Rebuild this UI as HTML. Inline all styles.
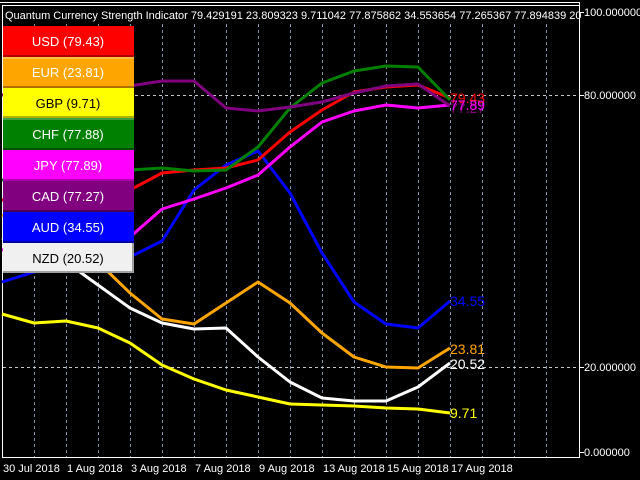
<!DOCTYPE html>
<html><head><meta charset="utf-8"><style>
html,body{margin:0;padding:0;background:#000;}
svg{display:block;font-family:"Liberation Sans",Arial,sans-serif;}
</style></head><body>
<svg width="640" height="480" viewBox="0 0 640 480" xmlns="http://www.w3.org/2000/svg">
<rect width="640" height="480" fill="#000"/>
<!-- frame -->
<line x1="0" y1="2.5" x2="580" y2="2.5" stroke="#fff" stroke-width="1"/>
<line x1="2" y1="5.5" x2="580" y2="5.5" stroke="#fff" stroke-width="1"/>
<line x1="579.5" y1="2" x2="579.5" y2="458" stroke="#fff"/>
<line x1="2" y1="457.5" x2="580" y2="457.5" stroke="#fff"/>
<line x1="2.5" y1="5" x2="2.5" y2="458" stroke="#fff"/>
<!-- vertical grid -->
<g stroke="#8094a8" stroke-width="1" stroke-dasharray="3,3">
<line x1="34.5" y1="6" x2="34.5" y2="457"/><line x1="66.5" y1="6" x2="66.5" y2="457"/>
<line x1="98.5" y1="6" x2="98.5" y2="457"/><line x1="130.5" y1="6" x2="130.5" y2="457"/>
<line x1="162.5" y1="6" x2="162.5" y2="457"/><line x1="194.5" y1="6" x2="194.5" y2="457"/>
<line x1="226.5" y1="6" x2="226.5" y2="457"/><line x1="258.5" y1="6" x2="258.5" y2="457"/>
<line x1="290.5" y1="6" x2="290.5" y2="457"/><line x1="322.5" y1="6" x2="322.5" y2="457"/>
<line x1="354.5" y1="6" x2="354.5" y2="457"/><line x1="386.5" y1="6" x2="386.5" y2="457"/>
<line x1="418.5" y1="6" x2="418.5" y2="457"/><line x1="450.5" y1="6" x2="450.5" y2="457"/>
<line x1="482.5" y1="6" x2="482.5" y2="457"/><line x1="514.5" y1="6" x2="514.5" y2="457"/>
<line x1="546.5" y1="6" x2="546.5" y2="457"/>
</g>
<g stroke="#c8c8c8" stroke-dasharray="3,3">
<line x1="3" y1="95.5" x2="579" y2="95.5"/>
<line x1="3" y1="367.5" x2="579" y2="367.5"/>
</g>
<!-- right axis -->
<g stroke="#fff"><line x1="580" y1="12.5" x2="584" y2="12.5"/><line x1="580" y1="95.5" x2="584" y2="95.5"/><line x1="580" y1="367.5" x2="584" y2="367.5"/><line x1="580" y1="452.5" x2="584" y2="452.5"/></g>
<g fill="#fff" font-size="11">
<text x="584" y="16">100.000000</text>
<text x="584" y="99">80.000000</text>
<text x="584" y="371">20.000000</text>
<text x="584" y="456">0.000000</text>
</g>
<!-- bottom labels -->
<g fill="#fff" font-size="11">
<text x="3" y="472">30 Jul 2018</text>
<text x="67" y="472">1 Aug 2018</text>
<text x="131" y="472">3 Aug 2018</text>
<text x="195" y="472">7 Aug 2018</text>
<text x="259" y="472">9 Aug 2018</text>
<text x="323" y="472">13 Aug 2018</text>
<text x="387" y="472">15 Aug 2018</text>
<text x="451" y="472">17 Aug 2018</text>
</g>
<g stroke-width="3" fill="none" stroke-linejoin="round">
<polyline stroke="#ffff00" points="2,314 34,323 66,321 98,328 130,343 162,365 194,379 226,390 258,397 290,404 322,405 354,406 386,408 418,409 450,413"/>
<polyline stroke="#ffffff" points="2,238 34,248 66,262 98,285 130,308 162,323 194,329 226,328 258,357 290,382 322,398 354,401 386,401 418,387 450,363"/>
<polyline stroke="#ffa500" points="2,215 34,230 66,245 98,262 130,293 162,319 194,324 226,303 258,282 290,303 322,333 354,357 386,367 418,368 450,348"/>
<polyline stroke="#0000ff" points="2,282 34,272 66,266 98,262 130,257 162,241 194,190 226,165 258,151 290,193 322,253 354,302 386,324 418,328 450,301"/>
<polyline stroke="#ff00ff" points="2,250 34,245 66,248 98,245 130,237 162,209 194,199 226,188 258,175 290,147 322,122 354,111 386,105 418,108 450,105"/>
<polyline stroke="#ff0000" points="2,200 34,198 66,196 98,194 130,190 162,173 194,170 226,168 258,160 290,132 322,110 354,92 386,87 418,85 450,98"/>
<polyline stroke="#008000" points="2,180 34,176 66,172 98,171 130,170 162,168 194,171 226,170 258,147 290,108 322,83 354,71 386,66 418,67 450,100"/>
<polyline stroke="#800080" points="2,95 34,92 66,90 98,88 130,86 162,81 194,81 226,108 258,111 290,107 322,102 354,93 386,86 418,84 450,106"/>
</g>
<g font-size="14">
<text x="450" y="103" fill="#ff0000">79.43</text>
<text x="450" y="113" fill="#800080">77.27</text>
<text x="450" y="110" fill="#ff00ff">77.89</text>
<text x="450" y="306" fill="#0000ff">34.55</text>
<text x="450" y="354" fill="#ffa500">23.81</text>
<text x="450" y="369" fill="#ffffff">20.52</text>
<text x="450" y="418" fill="#ffff00">9.71</text>
</g>
<!-- title -->
<rect x="3" y="6" width="576" height="18" fill="#000"/>
<text x="5" y="19" fill="#fff" font-size="11">Quantum Currency Strength Indicator 79.429191 23.809323 9.711042 77.875862 34.553654 77.265367 77.894839 20</text>
<!-- legend -->
<g font-size="13" text-anchor="middle">
<rect x="3" y="26" width="131" height="31" fill="#ff0000"/><rect x="3" y="55" width="131" height="2" fill="#b00000"/>
<text x="68" y="46" fill="#fff">USD (79.43)</text>
<rect x="3" y="57" width="131" height="31" fill="#ffa500"/><rect x="3" y="57" width="131" height="2" fill="#ffc040"/><rect x="3" y="86" width="131" height="2" fill="#b07000"/>
<text x="68" y="77" fill="#fff">EUR (23.81)</text>
<rect x="3" y="88" width="131" height="30" fill="#ffff00"/><rect x="3" y="116" width="131" height="2" fill="#b0b000"/>
<text x="68" y="108" fill="#000">GBP (9.71)</text>
<rect x="3" y="118" width="131" height="32" fill="#008000"/><rect x="3" y="118" width="131" height="2" fill="#40a040"/><rect x="3" y="148" width="131" height="2" fill="#005000"/>
<text x="68" y="139" fill="#fff">CHF (77.88)</text>
<rect x="3" y="150" width="131" height="31" fill="#ff00ff"/><rect x="3" y="179" width="131" height="2" fill="#b000b0"/>
<text x="68" y="170" fill="#fff">JPY (77.89)</text>
<rect x="3" y="181" width="131" height="31" fill="#800080"/><rect x="3" y="210" width="131" height="2" fill="#500050"/>
<text x="68" y="201" fill="#fff">CAD (77.27)</text>
<rect x="3" y="212" width="131" height="31" fill="#0000ff"/><rect x="3" y="241" width="131" height="2" fill="#0000a0"/>
<text x="68" y="232" fill="#fff">AUD (34.55)</text>
<rect x="3" y="243" width="131" height="30" fill="#f0f0f0"/><rect x="3" y="271" width="131" height="2" fill="#a0a0a0"/><rect x="132" y="243" width="2" height="30" fill="#a0a0a0"/>
<text x="68" y="263" fill="#000">NZD (20.52)</text>
</g>
</svg>
</body></html>
